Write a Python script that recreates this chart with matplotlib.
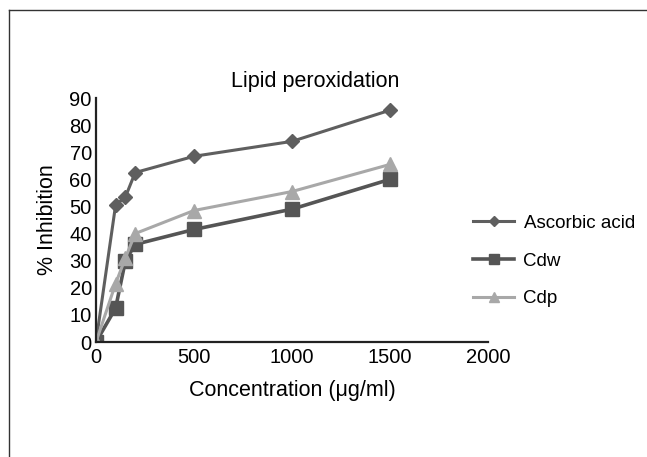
import matplotlib.pyplot as plt
from matplotlib.lines import Line2D

plt.rcParams['font.family'] = ['Liberation Sans', 'DejaVu Sans']

# Данні з графіка
conc = [0, 100, 150, 200, 500, 1000, 1500]
ascorbic = [0, 50.5, 53.5, 62.5, 68.5, 74, 85.5]
cdw = [0, 12.5, 30, 36, 41.5, 49, 60]
cdp = [0, 21.5, 31, 40, 48.5, 55.5, 65.5]

fig = plt.figure(figsize=(6.47, 4.57), dpi=100)

# Рамка навколо малюнка (тільки зверху і зліва)
fig.add_artist(Line2D([9 / 647, 1], [1 - 10 / 457] * 2, color='#333333', lw=1))
fig.add_artist(Line2D([9 / 647] * 2, [0, 1 - 10 / 457], color='#333333', lw=1))

ax = fig.add_axes([96 / 647, 1 - 342 / 457, 392 / 647, 244 / 457])

ax.plot(conc, ascorbic, color='#5f5f5f', lw=2.2, marker='D', ms=7,
        label='Ascorbic acid')
ax.plot(conc, cdw, color='#555555', lw=2.6, marker='s', ms=10, label='Cdw')
ax.plot(conc, cdp, color='#a8a8a8', lw=2.2, marker='^', ms=10, label='Cdp')

ax.set_xlim(0, 2000)
ax.set_ylim(0, 90)
ax.set_xticks([0, 500, 1000, 1500, 2000])
ax.set_yticks(range(0, 91, 10))
ax.spines['top'].set_visible(False)
ax.spines['right'].set_visible(False)
ax.spines['left'].set_linewidth(1.6)
ax.spines['bottom'].set_linewidth(1.6)
ax.spines['left'].set_color('#222222')
ax.spines['bottom'].set_color('#222222')
ax.tick_params(length=0, labelsize=14.5)
ax.tick_params(axis='x', pad=4)
ax.tick_params(axis='y', pad=3)

ax.set_xlabel('Concentration (\u03bcg/ml)', fontsize=15.5, labelpad=10)
ax.set_ylabel('% Inhibition', fontsize=15.5, labelpad=8)
fig.text(315 / 647, 1 - 82 / 457, 'Lipid peroxidation', fontsize=15.5,
         ha='center', va='center')

handles, labels = ax.get_legend_handles_labels()
fig.legend(handles, labels, loc='center left',
           bbox_to_anchor=(456 / 647, 1 - 261 / 457), frameon=False,
           fontsize=13.5, labelspacing=1.1, handlelength=2.2,
           handletextpad=0.5, markerscale=0.7)

plt.savefig('out.png', dpi=100)
